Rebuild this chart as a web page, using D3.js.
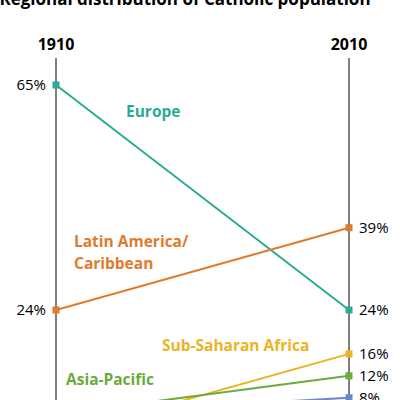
<!DOCTYPE html><html><head><script src="https://cdn.jsdelivr.net/npm/d3@7"></script>
<style>body{margin:0}text{font-family:"Open Sans",sans-serif}</style></head><body><script>
const years=["1910","2010"];
const regions=["Europe","Latin America/Caribbean","Sub-Saharan Africa","Asia-Pacific","North America"];
const v1910=[65,24,1,5,5];
const v2010=[24,39,16,12,8];
const colors=["#2bab95","#e07b2c","#eab424","#6aab3e","#7083c9"];
const leftLabels=[true,true,false,false,false];
const rightLabels=[true,true,true,true,true];
const svg=d3.select("body").append("svg").attr("width",400).attr("height",400);
const x=d3.scalePoint().domain(years).range([56,349]);
const y=d3.scaleLinear().domain([24,65]).range([310,85]);
svg.append("text").attr("x",185).attr("y",5).attr("text-anchor","middle").attr("font-weight","bold").attr("font-size",17).text("Regional distribution of Catholic population");
years.forEach(yr=>{
svg.append("text").attr("x",x(yr)).attr("y",50).attr("text-anchor","middle").attr("font-weight","bold").attr("font-size",16).text(yr);
svg.append("line").attr("x1",x(yr)).attr("x2",x(yr)).attr("y1",58).attr("y2",400).attr("stroke","#555").attr("stroke-width",1.5);
});
regions.forEach((r,i)=>{
const a=[[years[0],v1910[i]],[years[1],v2010[i]]];
svg.append("line").attr("x1",x(a[0][0])).attr("y1",y(a[0][1])).attr("x2",x(a[1][0])).attr("y2",y(a[1][1])).attr("stroke",colors[i]).attr("stroke-width",2);
a.forEach(p=>svg.append("rect").attr("x",x(p[0])-3.5).attr("y",y(p[1])-3.5).attr("width",7).attr("height",7).attr("fill",colors[i]));
if(leftLabels[i])svg.append("text").attr("x",46).attr("y",y(v1910[i])+5).attr("text-anchor","end").attr("font-size",15).text(v1910[i]+"%");
if(rightLabels[i])svg.append("text").attr("x",359).attr("y",y(v2010[i])+5).attr("font-size",15).text(v2010[i]+"%");
});
const lab=[["Europe",126,117,0],["Latin America/",74,247,1],["Caribbean",74,269,1],["Sub-Saharan Africa",162,351,2],["Asia-Pacific",66,385,3]];
lab.forEach(l=>svg.append("text").attr("x",l[1]).attr("y",l[2]).attr("font-weight","bold").attr("font-size",15.5).attr("fill",colors[l[3]]).text(l[0]));
</script></body></html>
